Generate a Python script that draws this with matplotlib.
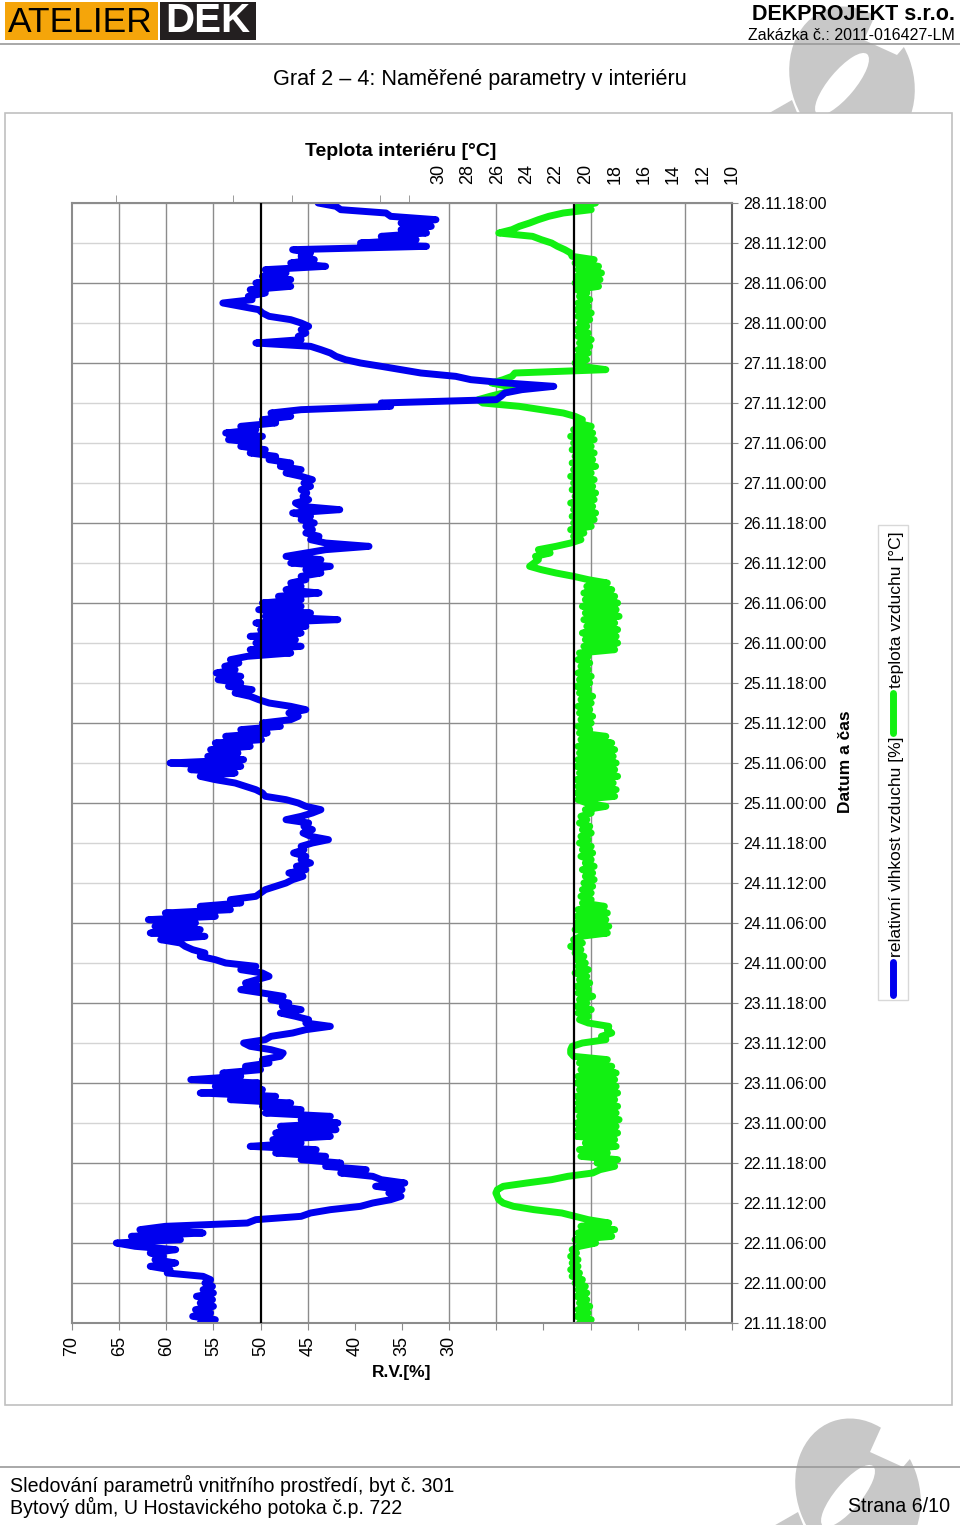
import numpy as np
import matplotlib
matplotlib.use('Agg')
import matplotlib.pyplot as plt
from matplotlib import transforms
from matplotlib.patches import Rectangle, Ellipse, Polygon

plt.rcParams['font.family'] = ['Liberation Sans', 'DejaVu Sans']

# time axis: one label every 6 hours, 21.11.18:00 -> 28.11.18:00
time_labels = ['21.11.18:00']
for day in range(22, 29):
    for hh in ['00', '06', '12', '18']:
        time_labels.append(f'{day}.11.{hh}:00')

step_h = 0.5   # logger interval used for the read-off values

# relative humidity [%], every 30 min from 21.11.18:00
rh_values = [
    56.4, 54.8, 57.2, 55.3, 56.9, 55.0, 56.4, 55.1, 56.8, 55.0, 56.1, 55.1, 55.9, 55.3, 56.1,
    59.9, 59.6, 61.7, 59.0, 61.2, 60.3, 61.7, 59.0, 63.3, 65.3, 58.5, 63.7, 56.1, 62.8, 60.1,
    51.4, 50.5, 45.7, 44.7, 42.6, 39.4, 38.1, 36.2, 35.1, 36.4, 35.0, 37.8, 34.7, 37.2, 38.1,
    41.5, 38.8, 43.1, 41.5, 45.7, 43.1, 48.4, 44.1, 51.1, 45.7, 48.7, 42.6, 48.4, 42.0, 47.9,
    41.8, 45.7, 42.6, 49.5, 45.7, 49.8, 46.8, 53.2, 48.4, 56.4, 49.8, 54.8, 50.2, 57.4, 52.1,
    54.0, 50.0, 51.6, 49.1, 49.8, 47.9, 47.6, 48.9, 51.1, 51.8, 49.5, 48.9, 46.6, 45.2, 42.6,
    45.2, 44.9, 46.3, 47.9, 45.7, 47.7, 47.0, 48.9, 47.6, 49.8, 52.1, 50.2, 51.6, 50.4, 49.1,
    49.8, 52.1, 50.5, 53.7, 54.8, 56.4, 55.9, 57.2, 58.0, 58.5, 60.6, 55.9, 61.7, 56.4, 61.2,
    56.9, 61.9, 54.8, 60.1, 53.2, 56.4, 52.1, 53.2, 50.5, 50.0, 49.5, 48.4, 47.3, 46.6, 45.5,
    47.0, 45.2, 46.2, 44.7, 45.7, 45.2, 46.5, 45.4, 45.7, 44.5, 42.8, 44.7, 45.5, 44.5, 45.4,
    44.9, 47.3, 45.7, 44.5, 43.6, 45.2, 46.0, 47.3, 49.5, 49.8, 50.5, 51.6, 52.7, 54.8, 56.4,
    52.7, 57.4, 52.1, 59.6, 51.8, 55.6, 52.4, 55.3, 51.1, 54.8, 49.9, 53.7, 49.3, 52.1, 47.9,
    49.8, 46.8, 46.0, 47.0, 45.2, 46.8, 49.1, 50.2, 51.1, 52.7, 50.9, 53.4, 52.1, 54.5, 52.1,
    54.7, 52.7, 53.8, 52.3, 53.2, 51.4, 46.8, 51.1, 45.7, 50.5, 46.3, 51.1, 45.7, 50.0, 45.2,
    50.5, 41.8, 49.5, 44.7, 50.2, 45.7, 49.8, 45.7, 48.1, 43.8, 47.3, 45.7, 46.8, 45.2, 45.7,
    43.6, 45.2, 42.6, 46.8, 43.6, 47.3, 45.2, 43.1, 38.5, 43.1, 44.7, 43.8, 45.2, 44.5, 45.2,
    44.3, 45.7, 44.7, 46.6, 41.6, 45.7, 46.3, 44.9, 45.5, 45.1, 45.7, 44.7, 45.4, 44.5, 45.7,
    47.3, 45.7, 47.9, 46.8, 49.1, 48.4, 51.1, 49.5, 52.1, 50.2, 53.4, 49.8, 53.7, 50.5, 52.1,
    48.4, 49.8, 46.8, 48.9, 45.7, 36.2, 37.2, 25.0, 24.5, 24.1, 22.3, 18.9, 23.9, 27.7, 29.3,
    33.0, 35.1, 37.2, 39.4, 41.0, 42.0, 42.6, 43.6, 44.7, 50.5, 45.7, 46.0, 45.2, 45.7, 44.9,
    45.7, 46.8, 49.1, 49.8, 50.2, 52.1, 54.0, 50.9, 51.3, 49.5, 51.1, 46.8, 50.5, 46.8, 49.8,
    47.3, 49.5, 43.1, 46.8, 44.3, 45.7, 44.7, 46.6, 32.4, 39.4, 33.5, 37.2, 32.4, 35.1, 31.9,
    35.1, 31.4, 36.2, 36.7, 41.5, 42.0, 43.9,
]

# air temperature [°C], same timestamps
temp_values = [
    20.4, 19.6, 20.6, 19.8, 20.5, 19.7, 20.4, 19.9, 20.6, 19.9, 20.5, 20.0, 20.7, 20.2, 20.9,
    20.4, 21.0, 20.5, 20.9, 20.5, 21.0, 20.6, 20.9, 20.4, 19.3, 20.7, 18.2, 20.5, 18.0, 20.3,
    18.4, 19.8, 20.7, 21.6, 23.5, 24.9, 25.6, 25.9, 26.0, 26.1, 26.0, 25.6, 24.0, 22.3, 21.2,
    19.5, 19.0, 18.0, 19.2, 17.8, 20.3, 18.5, 20.4, 17.9, 20.0, 18.0, 20.6, 17.8, 20.5, 17.9,
    20.6, 17.7, 20.4, 17.9, 20.6, 17.8, 20.5, 18.0, 20.6, 17.8, 20.4, 17.9, 20.6, 18.0, 20.5,
    17.9, 20.3, 18.2, 20.4, 18.5, 20.8, 21.0, 21.0, 20.9, 20.2, 18.6, 18.9, 18.2, 18.5, 18.4,
    19.8, 20.4, 19.8, 20.5, 19.6, 20.6, 19.9, 20.4, 19.5, 20.5, 19.8, 20.6, 19.7, 20.4, 19.9,
    20.7, 19.8, 20.5, 20.0, 20.6, 20.1, 20.7, 20.3, 21.0, 20.2, 20.8, 20.3, 18.5, 20.7, 18.4,
    20.6, 18.6, 20.6, 18.5, 20.5, 18.7, 20.2, 19.6, 20.3, 19.6, 20.2, 19.5, 20.1, 19.4, 20.0,
    19.5, 20.2, 19.4, 20.0, 19.6, 20.3, 19.5, 20.2, 19.6, 20.4, 19.8, 20.3, 19.6, 20.2, 19.7,
    20.4, 19.9, 20.3, 19.6, 20.0, 18.6, 19.9, 20.5, 18.0, 20.6, 17.9, 20.5, 18.1, 20.6, 17.8,
    20.4, 18.0, 20.6, 17.9, 20.5, 18.1, 20.4, 18.0, 20.5, 18.2, 20.3, 18.6, 20.4, 19.7, 20.5,
    19.6, 20.3, 19.5, 20.4, 19.7, 20.5, 19.6, 20.3, 19.5, 20.4, 19.8, 20.6, 19.7, 20.4, 19.6,
    20.5, 19.8, 20.3, 19.7, 20.5, 19.8, 20.4, 18.0, 20.1, 17.8, 20.0, 17.9, 20.2, 17.8, 19.9,
    18.0, 20.1, 17.7, 20.0, 17.9, 20.2, 17.8, 20.0, 18.0, 20.1, 18.2, 19.9, 18.5, 19.8, 20.8,
    22.0, 23.0, 23.8, 23.5, 23.2, 23.4, 22.4, 23.2, 22.0, 21.0, 20.3, 20.8, 20.1, 21.0, 19.6,
    20.8, 19.4, 20.9, 19.3, 20.8, 19.5, 21.0, 19.4, 20.7, 19.3, 20.9, 19.5, 20.8, 19.4, 21.0,
    19.6, 20.8, 19.3, 20.9, 19.5, 20.7, 19.4, 20.9, 19.6, 20.8, 19.4, 21.0, 19.5, 20.8, 19.6,
    20.6, 20.2, 20.7, 21.5, 23.0, 24.5, 27.0, 27.3, 26.5, 25.6, 24.7, 25.3, 26.4, 25.6, 25.0,
    24.8, 18.6, 20.3, 20.7, 19.9, 20.6, 19.8, 20.5, 19.7, 20.4, 19.6, 20.5, 19.8, 20.6, 19.9,
    20.4, 19.7, 20.5, 19.6, 20.6, 19.8, 20.5, 19.7, 20.4, 19.9, 20.6, 19.1, 20.7, 19.0, 20.6,
    18.9, 20.5, 19.1, 20.7, 19.4, 20.9, 21.0, 21.4, 21.9, 22.3, 23.0, 23.6, 25.9, 25.0, 24.5,
    23.8, 23.2, 22.5, 21.5, 19.6, 20.5, 19.3,
]

rh_ref = 50.0      # black reference line, humidity
temp_ref = 20.8    # black reference line, temperature

rh_grid = [65, 60, 55, 45, 30, 25, 15, 5]
temp_top_ticks = [10, 16, 22, 28, 32, 34, 40, 44, 52]
dark_grid_hours = [6, 12, 24, 36, 48, 60, 78, 90, 108, 120, 144, 156]

BLUE = '#0000ee'
GREEN = '#12f012'

hours = np.arange(len(rh_values)) * step_h
tick_hours = np.arange(len(time_labels)) * 6

fig = plt.figure(figsize=(9.6, 15.25), dpi=100)

# page decoration layer in pixel coordinates
ov = fig.add_axes([0, 0, 1, 1])
ov.set_xlim(0, 960)
ov.set_ylim(1525, 0)
ov.axis('off')
ov.set_zorder(0)


def watermark(cx, cy):
    ov.add_patch(Ellipse((cx, cy), 122, 150, angle=-20, facecolor='#c8c8c8', lw=0))
    ov.add_patch(Ellipse((cx - 10, cy + 4), 26, 78, angle=40, facecolor='white', lw=0))
    ov.add_patch(Polygon([(cx + 12, cy - 40), (cx + 30, cy - 80), (cx + 75, cy - 60),
                          (cx + 45, cy - 25)], closed=True, facecolor='white', lw=0))
    ov.add_patch(Polygon([(cx - 95, cy + 40), (cx - 60, cy + 20), (cx - 50, cy + 45),
                          (cx - 85, cy + 60)], closed=True, facecolor='#c8c8c8', lw=0))


watermark(852, 80)
watermark(858, 1492)

# header
ov.add_patch(Rectangle((5, 2), 153, 38, facecolor='#f5a50a', lw=0))
ov.text(8, 22, 'ATELIER', fontsize=25.5, color='black', va='center', ha='left')
ov.add_patch(Rectangle((160, 2), 96, 38, facecolor='#231f20', lw=0))
ov.text(208, 21, 'DEK', fontsize=29, fontweight='bold', color='white', va='center', ha='center')
ov.text(955, 14, 'DEKPROJEKT s.r.o.', fontsize=15.5, fontweight='bold', ha='right', va='center')
ov.text(955, 35, 'Zakázka č.: 2011-016427-LM', fontsize=11.5, ha='right', va='center')
ov.plot([0, 960], [44, 44], color='#9a9a9a', lw=1.2)
ov.text(480, 80, 'Graf 2 – 4: Naměřené parametry v interiéru', fontsize=15.6,
        ha='center', va='center')

# chart frame
ov.add_patch(Rectangle((5, 113), 947, 1292, facecolor='white', edgecolor='#c0c0c0', lw=1.2))

# footer
ov.plot([0, 960], [1467, 1467], color='#9a9a9a', lw=1.2)
ov.text(10, 1485, 'Sledování parametrů vnitřního prostředí, byt č. 301', fontsize=14.1,
        ha='left', va='center')
ov.text(10, 1507, 'Bytový dům, U Hostavického potoka č.p. 722', fontsize=14.1,
        ha='left', va='center')
ov.text(950, 1507, 'Strana 6/10', fontsize=14.1, ha='right', va='center')

# plot area: x 72..732 px, y 203..1323 px
pos = [72 / 960, (1525 - 1323) / 1525, 660 / 960, 1120 / 1525]
ax2 = fig.add_axes(pos)               # temperature, lower layer
ax = fig.add_axes(pos, sharey=ax2)    # humidity, upper layer
ax2.set_zorder(2)
ax.set_zorder(3)
ax.patch.set_visible(False)

ax.set_xlim(70, 0)
ax.set_ylim(0, 168)
ax2.set_xlim(55, 10)

# grid (under both series)
for h in tick_hours:
    c = '#8c8c8c' if h in dark_grid_hours else '#d4d4d4'
    ax2.axhline(h, color=c, lw=1.0, zorder=1)
vtrans = transforms.blended_transform_factory(ax.transData, ax2.transAxes)
for v in rh_grid:
    ax2.plot([v, v], [0, 1], transform=vtrans, color='#8c8c8c', lw=1.0, zorder=1)

ax2.plot(temp_values, hours, color=GREEN, lw=5, solid_joinstyle='round',
         solid_capstyle='round', zorder=2)
ax2.axvline(temp_ref, color='black', lw=1.6, zorder=3)

ax.plot(rh_values, hours, color=BLUE, lw=5, solid_joinstyle='round',
        solid_capstyle='round', zorder=2)
ax.axvline(rh_ref, color='black', lw=1.6, zorder=3)

# humidity axis (bottom)
rh_ticks = np.arange(0, 71, 5)
ax.set_xticks(rh_ticks)
ax.set_xticklabels([str(v) if v >= 30 else '' for v in rh_ticks], rotation=90, fontsize=13)
ax.tick_params(axis='x', direction='out', length=5, color='#8c8c8c', pad=4)

# time axis (right)
ax.yaxis.tick_right()
ax.set_yticks(tick_hours)
ax.set_yticklabels(time_labels, fontsize=11.5)
ax.tick_params(axis='y', direction='out', length=4, color='#8c8c8c', pad=4)
ax.tick_params(axis='y', left=False)

for side in ['left', 'top', 'bottom']:
    ax.spines[side].set_color('#8c8c8c')
    ax.spines[side].set_linewidth(1.5)
ax.spines['right'].set_color('#606060')
ax.spines['right'].set_linewidth(1.5)

# temperature axis (top)
ax2.xaxis.tick_top()
ax2.set_xticks(np.arange(10, 31, 2))
ax2.set_xticklabels([str(v) for v in range(10, 31, 2)], rotation=90, fontsize=13)
ax2.set_xticks(temp_top_ticks, minor=True)
ax2.tick_params(axis='x', which='major', length=0, pad=14)
ax2.tick_params(axis='x', which='minor', direction='out', length=6, color='#8c8c8c')
ax2.yaxis.set_visible(False)
for s in ax2.spines.values():
    s.set_visible(False)

# axis titles
ov.text(401, 152, 'Teplota interiéru [°C]', fontsize=14, fontweight='bold',
        ha='center', va='center')
ov.text(402, 1372, 'R.V.[%]', fontsize=12.5, fontweight='bold', ha='center', va='center')
ov.text(846, 762, 'Datum a čas', fontsize=12.5, fontweight='bold', rotation=90,
        ha='center', va='center')

# legend (rotated, drawn by hand)
ov.add_patch(Rectangle((878, 525), 30, 475, facecolor='white', edgecolor='#d8d8d8', lw=1))
ov.plot([893, 893], [962, 995], color=BLUE, lw=5, solid_capstyle='round')
ov.text(896, 957, 'relativní vlhkost vzduchu [%]', fontsize=12.6, rotation=90,
        ha='center', va='bottom')
ov.plot([893, 893], [693, 733], color=GREEN, lw=5, solid_capstyle='round')
ov.text(896, 688, 'teplota vzduchu [°C]', fontsize=12.6, rotation=90,
        ha='center', va='bottom')

fig.savefig('out.png', dpi=100)
